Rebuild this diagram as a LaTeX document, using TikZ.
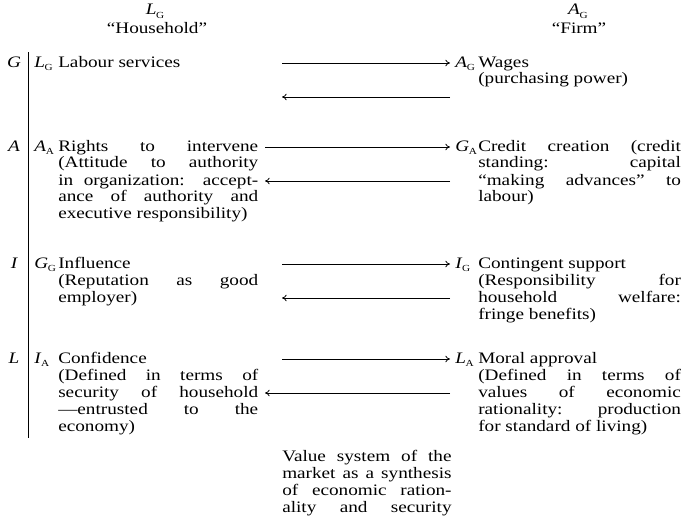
\documentclass[tikz,border=0pt]{standalone}
\usepackage{fontspec}
\setmainfont{Liberation Serif}[FakeStretch=1.2]
\usetikzlibrary{arrows.meta}

% one justified line of a narrow column
\newcommand{\jl}[1]{\makebox[\linewidth][s]{#1}}
% italic letter with its small upright subscript
\newcommand{\agil}[2]{\textit{#1}\kern-0.2pt\raisebox{-0.45ex}{\scriptsize #2}}

\tikzset{
  txt/.style={anchor=base west, inner sep=0pt, font=\fontsize{12}{12.75}\selectfont},
  head/.style={anchor=base, inner sep=0pt, font=\fontsize{12}{12.75}\selectfont},
  rowlab/.style={anchor=base, inner sep=0pt, font=\fontsize{12}{12.75}\selectfont\itshape},
  flow/.style={-{To[length=3.5pt,width=5pt]}, line width=0.6pt},
  axis/.style={line width=0.7pt}
}

\begin{document}
\begin{tikzpicture}[x=0.75pt,y=-0.75pt]
\useasboundingbox (0,0) rectangle (683,521);

% column headings, centred over their columns
\node[head] (hL) at (155,15) {\agil{L}{G}};
\node[head] (hLt) at (157,33) {“Household”};
\node[head] (hA) at (578,15) {\agil{A}{G}};
\node[head] (hAt) at (579,33) {“Firm”};

% vertical rule with the four subsystem labels
\coordinate (barTop) at (28,52);
\coordinate (barBot) at (28,438);
\draw[axis] (barTop) -- (barBot);
\node[rowlab] (rG) at (14,67) {G};
\node[rowlab] (rA) at (14,151) {A};
\node[rowlab] (rI) at (14,268) {I};
\node[rowlab] (rL) at (14,363) {L};

% household side
\node[txt] (cG) at (34,67) {\agil{L}{G}};
\node[txt] (tG) at (58,67) {Labour services};
\node[txt] (cA) at (34,151) {\agil{A}{A}};
\node[txt] (tA) at (58,151) {\parbox[t]{150pt}{%
  \jl{Rights to intervene}\\
  \jl{(Attitude to authority}\\
  \jl{in organization: accept-}\\
  \jl{ance of authority and}\\
  executive responsibility)}};
\node[txt] (cI) at (34,268) {\agil{G}{G}};
\node[txt] (tI) at (58,268) {\parbox[t]{150pt}{%
  Influence\\
  \jl{(Reputation as good}\\
  employer)}};
\node[txt] (cL) at (34,363) {\agil{I}{A}};
\node[txt] (tL) at (58,363) {\parbox[t]{150pt}{%
  Confidence\\
  \jl{(Defined in terms of}\\
  \jl{security of household}\\
  \jl{—entrusted to the}\\
  economy)}};

% firm side
\node[txt] (dG) at (455,67) {\agil{A}{G}};
\node[txt] (uG) at (478,67) {\parbox[t]{152pt}{%
  Wages\\
  (purchasing power)}};
\node[txt] (dA) at (455,151) {\agil{G}{A}};
\node[txt] (uA) at (478,151) {\parbox[t]{152pt}{%
  \jl{Credit creation (credit}\\
  \jl{standing: capital}\\
  \jl{“making advances” to}\\
  labour)}};
\node[txt] (dI) at (455,268) {\agil{I}{G}};
\node[txt] (uI) at (478,268) {\parbox[t]{152pt}{%
  Contingent support\\
  \jl{(Responsibility for}\\
  \jl{household welfare:}\\
  fringe benefits)}};
\node[txt] (dL) at (455,363) {\agil{L}{A}};
\node[txt] (uL) at (478,363) {\parbox[t]{152pt}{%
  Moral approval\\
  \jl{(Defined in terms of}\\
  \jl{values of economic}\\
  \jl{rationality: production}\\
  for standard of living)}};

% value system beneath the exchanges
\node[txt] (vs) at (282,461) {\parbox[t]{127pt}{%
  \jl{Value system of the}\\
  \jl{market as a synthesis}\\
  \jl{of economic ration-}\\
  \jl{ality and security}}};

% interchange arrows
\coordinate (gOutA) at (282,63);  \coordinate (gOutB) at (450,63);
\coordinate (gInA)  at (450,97);  \coordinate (gInB)  at (282,97);
\coordinate (aOutA) at (265,147); \coordinate (aOutB) at (450,147);
\coordinate (aInA)  at (450,181); \coordinate (aInB)  at (265,181);
\coordinate (iOutA) at (282,264); \coordinate (iOutB) at (450,264);
\coordinate (iInA)  at (450,298); \coordinate (iInB)  at (282,298);
\coordinate (lOutA) at (282,359); \coordinate (lOutB) at (450,359);
\coordinate (lInA)  at (450,393); \coordinate (lInB)  at (265,393);
\draw[flow] (gOutA) -- (gOutB);
\draw[flow] (gInA) -- (gInB);
\draw[flow] (aOutA) -- (aOutB);
\draw[flow] (aInA) -- (aInB);
\draw[flow] (iOutA) -- (iOutB);
\draw[flow] (iInA) -- (iInB);
\draw[flow] (lOutA) -- (lOutB);
\draw[flow] (lInA) -- (lInB);
\end{tikzpicture}
\end{document}
